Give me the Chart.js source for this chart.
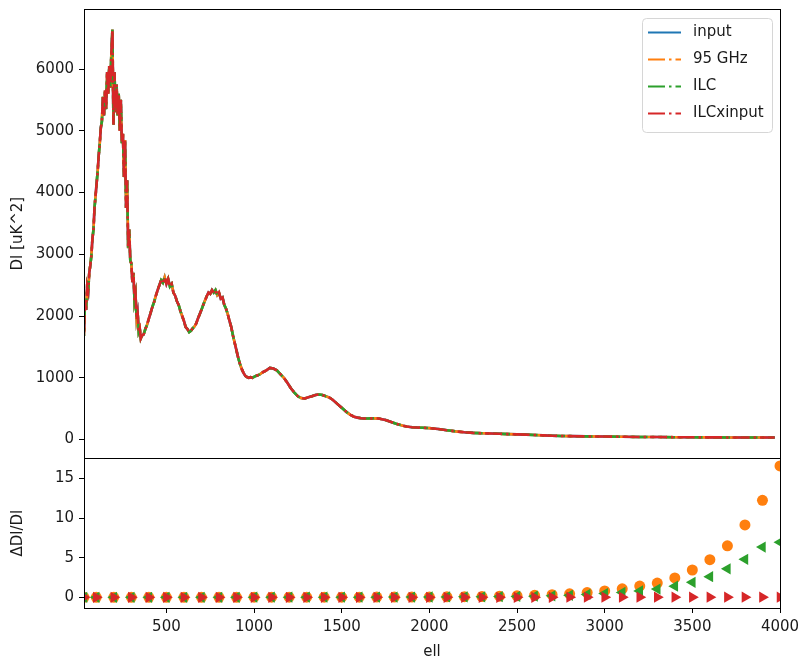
<!DOCTYPE html>
<html>
<head>
<meta charset="utf-8">
<script src="https://cdn.jsdelivr.net/npm/chart.js@4.4.1/dist/chart.umd.min.js"></script>
<style>
  html, body { margin: 0; padding: 0; background: #fff; }
  #wrap { width: 800px; height: 661px; position: relative; }
</style>
</head>
<body>
<div id="wrap"><canvas id="spectra"></canvas></div>
<script>
// multipoles and band power Dl [uK^2] of the maps (all four curves lie on top of each other)
const ell = [
  30, 36, 42, 48, 54, 60, 66, 72, 78, 84, 90, 96, 102, 108, 114, 120, 126, 132, 138, 144,
  150, 156, 162, 168, 174, 180, 186, 192, 198, 204, 210, 216, 222, 228, 234, 240, 246, 252, 258, 264,
  270, 276, 282, 288, 294, 300, 306, 312, 318, 324, 330, 336, 342, 348, 354, 360,
  370, 380, 390, 400, 410, 420, 430, 440, 450, 460, 470, 480, 490, 500, 510, 520, 530, 540, 550, 560,
  570, 580, 590, 600, 610, 620, 630, 640, 650, 660, 670, 680, 690, 700, 710, 720, 730, 740, 750, 760,
  770, 780, 790, 800, 810, 820, 830, 840, 850, 860, 870, 880, 890, 900, 910, 920, 930, 940, 950, 960,
  970, 980, 990, 1010, 1030, 1050, 1070, 1090, 1110, 1130, 1150, 1170, 1190, 1210, 1230, 1250, 1270, 1290,
  1310, 1330, 1350, 1370, 1390, 1410, 1430, 1450, 1470, 1490, 1510, 1530, 1550, 1570, 1590, 1610, 1630,
  1650, 1670, 1690, 1710, 1730, 1750, 1770, 1790, 1810, 1830, 1850, 1870, 1900, 1930, 1960, 2000, 2050,
  2100, 2150, 2200, 2250, 2300, 2350, 2400, 2450, 2500, 2550, 2600, 2650, 2700, 2750, 2800, 2900, 3000,
  3100, 3200, 3300, 3400, 3500, 3600, 3700, 3800, 3900, 3970
];
const dlSpectrum = [
  1680, 2250, 2100, 2480, 2400, 2700, 2820, 2980, 3250, 3400, 3750, 3950, 4150, 4350, 4600, 4800, 5050, 5150, 5550, 5250,
  5650, 5350, 5950, 5600, 6050, 5700, 6250, 6640, 5100, 5950, 5300, 5750, 5250, 5600, 5000, 5500, 4800, 4950, 4250, 4850,
  3750, 4200, 3100, 3400, 2900, 2850, 2550, 2700, 2250, 2350, 1950, 2050, 1750, 1800, 1640, 1680,
  1700, 1790, 1860, 1960, 2050, 2150, 2230, 2330, 2420, 2500, 2580, 2540, 2630, 2520, 2600, 2480, 2520, 2380, 2330, 2240,
  2180, 2080, 2000, 1920, 1820, 1790, 1740, 1760, 1800, 1830, 1880, 1960, 2030, 2100, 2180, 2250, 2320, 2380, 2360, 2420,
  2380, 2420, 2340, 2380, 2280, 2300, 2180, 2120, 2030, 1920, 1820, 1680, 1560, 1440, 1320, 1220, 1140, 1080, 1030, 1010,
  1000, 1010, 1000, 1030, 1050, 1090, 1120, 1160, 1150, 1120, 1060, 1000, 920, 830, 760, 700, 670, 665,
  685, 700, 720, 730, 720, 700, 680, 640, 590, 540, 490, 440, 400, 370, 355, 345, 340,
  340, 342, 345, 340, 330, 315, 295, 275, 255, 240, 225, 212, 200, 195, 192, 185, 170,
  150, 132, 118, 108, 102, 98, 93, 88, 84, 80, 74, 67, 62, 58, 55, 51, 48,
  45, 42, 40, 38, 36, 35, 34, 33, 32, 32
];

// binned fractional difference of each map against the input
const ellBins = [
  30, 100, 200, 300, 400, 500, 600, 700, 800, 900, 1000, 1100, 1200, 1300, 1400, 1500, 1600, 1700, 1800, 1900,
  2000, 2100, 2200, 2300, 2400, 2500, 2600, 2700, 2800, 2900, 3000, 3100, 3200, 3300, 3400, 3500, 3600, 3700,
  3800, 3900, 4000
];
const ratio95 = [
  0.0, 0.0, 0.0, 0.0, 0.0, 0.0, 0.0, 0.0, 0.0, 0.0, 0.01, 0.01, 0.01, 0.01, 0.02, 0.02, 0.02, 0.03, 0.03, 0.04,
  0.05, 0.06, 0.08, 0.1, 0.14, 0.19, 0.25, 0.33, 0.44, 0.6, 0.8, 1.08, 1.42, 1.8, 2.45, 3.45, 4.75, 6.5,
  9.15, 12.25, 16.6
];
const ratioIlc = [
  0.0, 0.0, 0.0, 0.0, 0.0, 0.0, 0.0, 0.0, 0.0, 0.0, 0.01, 0.01, 0.01, 0.01, 0.01, 0.02, 0.02, 0.02, 0.03, 0.03,
  0.04, 0.05, 0.06, 0.07, 0.09, 0.11, 0.14, 0.19, 0.26, 0.36, 0.48, 0.62, 0.8, 1.05, 1.4, 1.9, 2.6, 3.6,
  4.8, 6.35, 6.95
];
const ratioIlcX = [
  0.0, 0.0, 0.0, 0.0, 0.0, 0.0, 0.0, 0.0, 0.0, 0.0, 0.0, 0.0, 0.0, 0.0, 0.0, 0.0, 0.0, 0.0, 0.0, 0.0,
  0.0, 0.0, 0.0, 0.0, 0.0, 0.0, 0.0, 0.0, 0.01, 0.01, 0.01, 0.01, 0.01, 0.01, 0.01, 0.02, 0.02, 0.02,
  0.02, 0.02, 0.02
];

const xTicks = [500, 1000, 1500, 2000, 2500, 3000, 3500, 4000];
const dlTicks = [0, 1000, 2000, 3000, 4000, 5000, 6000];
const ratioTicks = [0, 5, 10, 15];

const mapNames = ['input', '95 GHz', 'ILC', 'ILCxinput'];
const mapColors = ['#1f77b4', '#ff7f0e', '#2ca02c', '#d62728'];

const FONT = 'DejaVu Sans';
const TEXT = '#1a1a1a';
const dashDot = [17, 4, 2.5, 4];

Chart.defaults.font.family = FONT;
Chart.defaults.font.size = 15;
Chart.defaults.color = TEXT;

const pts = (xs, ys) => xs.map((x, i) => ({ x: x, y: ys[i] }));

const lineSets = mapNames.map((name, i) => ({
  type: 'line',
  label: name,
  data: pts(ell, dlSpectrum),
  xAxisID: 'x',
  yAxisID: 'yTop',
  borderColor: mapColors[i],
  backgroundColor: mapColors[i],
  borderWidth: 2.6,
  borderDash: i === 0 ? [] : dashDot,
  borderDashOffset: i * 8,
  pointRadius: 0,
  tension: 0,
  fill: false,
  clip: 0,
  order: 10 - i
}));

const markerSets = [
  { label: '95 GHz ratio', data: pts(ellBins, ratio95), color: mapColors[1], style: 'circle', rot: 0, r: 5.5, order: 3 },
  { label: 'ILC ratio', data: pts(ellBins, ratioIlc), color: mapColors[2], style: 'triangle', rot: -90, r: 6.5, order: 2 },
  { label: 'ILCxinput ratio', data: pts(ellBins, ratioIlcX), color: mapColors[3], style: 'triangle', rot: 90, r: 6.5, order: 1 }
].map(m => ({
  type: 'scatter',
  label: m.label,
  data: m.data,
  xAxisID: 'x',
  yAxisID: 'yBottom',
  showLine: false,
  pointStyle: m.style,
  pointRotation: m.rot,
  pointRadius: m.r,
  pointBorderWidth: 0,
  pointBackgroundColor: m.color,
  pointBorderColor: m.color,
  clip: 0,
  order: m.order
}));

// black box round each panel, like matplotlib axes spines
const panelFrames = {
  id: 'panelFrames',
  afterDatasetsDraw(chart) {
    const { ctx, chartArea } = chart;
    ctx.save();
    ctx.strokeStyle = '#000';
    ctx.lineWidth = 1;
    ['yTop', 'yBottom'].forEach(id => {
      const s = chart.scales[id];
      ctx.strokeRect(Math.round(chartArea.left) + 0.5, Math.round(s.top) + 0.5,
        Math.round(chartArea.right - chartArea.left), Math.round(s.bottom - s.top));
    });
    ctx.restore();
  }
};

// legend for the spectra, placed inside the top panel at the upper right
const spectraLegend = {
  id: 'spectraLegend',
  afterDraw(chart) {
    const { ctx, chartArea } = chart;
    const top = chart.scales.yTop.top + 9;
    const w = 130, h = 114;
    const left = chartArea.right - 8 - w;
    ctx.save();
    ctx.beginPath();
    ctx.roundRect(left + 0.5, top + 0.5, w, h, 4);
    ctx.fillStyle = 'rgba(255,255,255,0.8)';
    ctx.fill();
    ctx.strokeStyle = '#d6d6d6';
    ctx.lineWidth = 1;
    ctx.stroke();
    ctx.font = '15px "' + FONT + '"';
    ctx.textBaseline = 'middle';
    mapNames.forEach((name, i) => {
      const y = top + 14.5 + i * 27;
      ctx.beginPath();
      ctx.setLineDash(i === 0 ? [] : dashDot);
      ctx.strokeStyle = mapColors[i];
      ctx.lineWidth = 2;
      ctx.moveTo(left + 6, y);
      ctx.lineTo(left + 39, y);
      ctx.stroke();
      ctx.setLineDash([]);
      ctx.fillStyle = TEXT;
      ctx.fillText(name, left + 51, y);
    });
    ctx.restore();
  }
};

const tickGrid = { display: true, drawOnChartArea: false, drawTicks: true, tickLength: 5, color: '#000', lineWidth: 1 };
const axisBorder = { display: true, color: '#000', width: 1 };
const plainLabel = v => String(v);

// the layout padding alone fixes the plot area; drop the room Chart.js keeps for edge labels
const fitY = s => { s.width = 84; s.paddingTop = 0; s.paddingBottom = 0; };
const fitX = s => { s.height = 53; s.paddingLeft = 0; s.paddingRight = 0; };

new Chart(document.getElementById('spectra'), {
  data: { datasets: lineSets.concat(markerSets) },
  options: {
    responsive: true,
    maintainAspectRatio: false,
    animation: false,
    events: [],
    layout: { padding: { top: 9, right: 20, left: 0, bottom: 0 } },
    plugins: { legend: { display: false }, tooltip: { enabled: false } },
    scales: {
      x: {
        type: 'linear',
        position: 'bottom',
        min: 30,
        max: 4000,
        afterBuildTicks: s => { s.ticks = xTicks.map(v => ({ value: v })); },
        afterFit: fitX,
        ticks: { padding: 5, maxRotation: 0, callback: plainLabel },
        grid: tickGrid,
        border: axisBorder,
        title: { display: true, text: 'ell', padding: { top: 0, bottom: 0 } }
      },
      yBottom: {
        type: 'linear',
        position: 'left',
        stack: 'panels',
        stackWeight: 1,
        min: -1.35,
        max: 17.57,
        afterBuildTicks: s => { s.ticks = ratioTicks.map(v => ({ value: v })); },
        afterFit: fitY,
        ticks: { padding: 5, callback: plainLabel },
        grid: tickGrid,
        border: axisBorder,
        title: { display: true, text: 'ΔDl/Dl', padding: { top: 9, bottom: 0 } }
      },
      yTop: {
        type: 'linear',
        position: 'left',
        stack: 'panels',
        stackWeight: 3,
        min: -303,
        max: 6972,
        afterBuildTicks: s => { s.ticks = dlTicks.map(v => ({ value: v })); },
        afterFit: fitY,
        ticks: { padding: 5, callback: plainLabel },
        grid: tickGrid,
        border: axisBorder,
        title: { display: true, text: 'Dl [uK^2]', padding: { top: 9, bottom: 0 } }
      }
    }
  },
  plugins: [panelFrames, spectraLegend]
});
</script>
</body>
</html>
